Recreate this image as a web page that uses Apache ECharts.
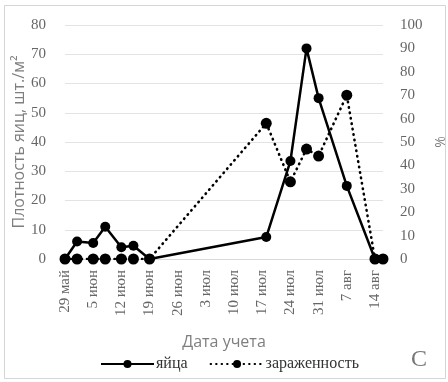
<!DOCTYPE html>
<html>
<head>
<meta charset="utf-8">
<script src="https://cdn.jsdelivr.net/npm/echarts@6/dist/echarts.min.js"></script>
<style>html,body{margin:0;padding:0;background:#fff;}#c{width:448px;height:382px;}</style>
</head>
<body>
<div id="c"></div>
<script>
// Data
const startDate = '2020-05-29';
const dates = ['2020-05-29','2020-06-01','2020-06-05','2020-06-08','2020-06-12','2020-06-15','2020-06-19','2020-07-18','2020-07-24','2020-07-28','2020-07-31','2020-08-07','2020-08-14','2020-08-16'];
const eggs = [0, 6, 5.5, 11, 4, 4.5, 0, 7.5, 33.5, 72, 55, 25, 0, 0];
const infestation = [0, 0, 0, 0, 0, 0, 0, 58, 33, 47, 44, 70, 0, 0];
const tickLabels = ['29 май','5 июн','12 июн','19 июн','26 июн','3 июл','10 июл','17 июл','24 июл','31 июл','7 авг','14 авг'];

const DAY = 86400000;
const t0 = Date.parse(startDate);
const dayOffsets = dates.map(d => Math.round((Date.parse(d) - t0) / DAY));

const chart = echarts.init(document.getElementById('c'), null, {renderer: 'canvas'});
const gray = '#666';
const serif = '"Liberation Serif", "DejaVu Serif", serif';
const sans = '"Open Sans", "Liberation Sans", sans-serif';

chart.setOption({
  animation: false,
  backgroundColor: '#fff',
  grid: {left: 65, right: 65, top: 25, bottom: 123, outerBoundsMode: 'none', containLabel: false},
  xAxis: {
    type: 'value', min: 0, max: 79, interval: 7,
    name: 'Дата учета', nameLocation: 'middle', nameGap: 75,
    nameTextStyle: {fontFamily: sans, fontSize: 16, color: '#7f7f7f'},
    axisLine: {show: true, lineStyle: {color: '#d9d9d9'}},
    axisTick: {show: false},
    splitLine: {show: false},
    axisLabel: {
      rotate: 90, margin: 11, fontFamily: serif, fontSize: 15, color: gray,
      showMaxLabel: false,
      formatter: v => tickLabels[Math.round(v / 7)] || ''
    }
  },
  yAxis: [{
    type: 'value', min: 0, max: 80, interval: 10,
    name: 'Плотность яиц, шт./м²', nameLocation: 'middle', nameGap: 38, nameMoveOverlap: false,
    nameTextStyle: {fontFamily: sans, fontSize: 16, color: '#7f7f7f'},
    axisLine: {show: false}, axisTick: {show: false},
    axisLabel: {margin: 19, fontFamily: serif, fontSize: 15, color: gray},
    splitLine: {lineStyle: {color: '#e3e3e3', width: 1}}
  }, {
    type: 'value', min: 0, max: 100, interval: 10, position: 'right',
    name: '%', nameLocation: 'middle', nameGap: 51,
    nameTextStyle: {fontFamily: sans, fontSize: 14, color: '#7f7f7f'},
    axisLine: {show: false}, axisTick: {show: false},
    axisLabel: {margin: 17, fontFamily: serif, fontSize: 15, color: gray},
    splitLine: {show: false}
  }],
  legend: {
    left: 95, top: 351, itemGap: 22, itemWidth: 53, itemHeight: 10,
    textStyle: {fontFamily: serif, fontSize: 16, color: '#333', padding: [0,0,0,-3]},
    data: ['яйца', 'зараженность']
  },
  series: [{
    name: 'яйца', type: 'line', yAxisIndex: 0,
    data: dayOffsets.map((d, i) => [d, eggs[i]]),
    symbol: 'circle', symbolSize: 10,
    itemStyle: {color: '#000'},
    lineStyle: {color: '#000', width: 2.5, type: 'solid'},
    z: 3
  }, {
    name: 'зараженность', type: 'line', yAxisIndex: 1,
    data: dayOffsets.map((d, i) => [d, infestation[i]]),
    symbol: 'circle', symbolSize: 11,
    itemStyle: {color: '#000'},
    lineStyle: {color: '#000', width: 2.6, type: [0.5, 5], cap: 'round'},
    z: 2
  }],
  graphic: [{
    type: 'rect', shape: {x: 4.5, y: 5.5, width: 441, height: 373},
    style: {fill: null, stroke: '#d5d5d5', lineWidth: 1}, silent: true
  }, {
    type: 'text', left: 411, top: 348,
    style: {text: 'C', font: '24px ' + serif, fill: '#777'}
  }]
});
</script>
</body>
</html>
